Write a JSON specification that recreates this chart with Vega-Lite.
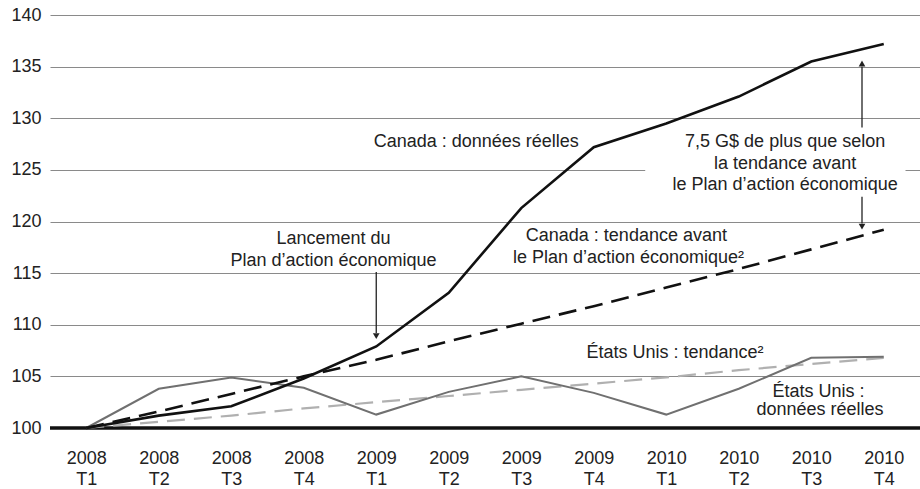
{
  "$schema": "https://vega.github.io/schema/vega-lite/v6.json",
  "width": 870,
  "height": 413,
  "autosize": {"type": "none"},
  "padding": {"left": 50, "top": 15, "right": 0, "bottom": 61},
  "background": "white",
  "config": {
    "view": {"stroke": null},
    "font": "Liberation Sans",
    "text": {"font": "Liberation Sans", "fontSize": 18, "color": "#222"}
  },
  "datasets": {
    "series": [
      {"q": 0, "canada": 100.0, "canada_trend": 100.0, "us": 100.0, "us_trend": 100.0},
      {"q": 1, "canada": 101.2, "canada_trend": 101.6, "us": 103.8, "us_trend": 100.6},
      {"q": 2, "canada": 102.1, "canada_trend": 103.3, "us": 104.9, "us_trend": 101.2},
      {"q": 3, "canada": 104.8, "canada_trend": 105.0, "us": 103.9, "us_trend": 101.9},
      {"q": 4, "canada": 107.9, "canada_trend": 106.6, "us": 101.3, "us_trend": 102.5},
      {"q": 5, "canada": 113.1, "canada_trend": 108.4, "us": 103.5, "us_trend": 103.1},
      {"q": 6, "canada": 121.3, "canada_trend": 110.1, "us": 105.0, "us_trend": 103.7},
      {"q": 7, "canada": 127.2, "canada_trend": 111.8, "us": 103.4, "us_trend": 104.3},
      {"q": 8, "canada": 129.5, "canada_trend": 113.6, "us": 101.3, "us_trend": 104.9},
      {"q": 9, "canada": 132.1, "canada_trend": 115.4, "us": 103.8, "us_trend": 105.6},
      {"q": 10, "canada": 135.5, "canada_trend": 117.3, "us": 106.8, "us_trend": 106.2},
      {"q": 11, "canada": 137.2, "canada_trend": 119.2, "us": 106.9, "us_trend": 106.8}
    ],
    "labels": [
      {"x": 5.38, "y": 127.7, "text": "Canada : données réelles"},
      {"x": 9.64, "y": 127.7, "text": "7,5 G$ de plus que selon"},
      {"x": 9.64, "y": 125.6, "text": "la tendance avant"},
      {"x": 9.64, "y": 123.5, "text": "le Plan d’action économique"},
      {"x": 3.41, "y": 118.3, "text": "Lancement du"},
      {"x": 3.41, "y": 116.2, "text": "Plan d’action économique"},
      {"x": 7.45, "y": 118.6, "text": "Canada : tendance avant"},
      {"x": 7.48, "y": 116.5, "text": "le Plan d’action économique²"},
      {"x": 8.12, "y": 107.3, "text": "États Unis : tendance²"},
      {"x": 10.1, "y": 103.5, "text": "États Unis :"},
      {"x": 10.12, "y": 101.7, "text": "données réelles"}
    ],
    "arrows": [
      {"x": 4, "y": 115.1, "y2": 109.2},
      {"x": 10.7, "y": 129.1, "y2": 135.0},
      {"x": 10.7, "y": 122.4, "y2": 119.8}
    ],
    "heads": [
      {"x": 4, "y": 108.9, "shape": "triangle-down"},
      {"x": 10.7, "y": 135.3, "shape": "triangle-up"},
      {"x": 10.7, "y": 119.5, "shape": "triangle-down"}
    ],
    "mask": [
      {"x": 7.71, "x2": 11.3, "y": 121.2, "y2": 128.8}
    ],
    "base": [{"v": 100}]
  },
  "layer": [
    {
      "data": {"name": "mask"},
      "mark": {"type": "rect", "fill": "white", "stroke": null},
      "encoding": {
        "x": {"field": "x", "type": "quantitative", "scale": {"domain": [-0.5, 11.5], "nice": false, "zero": false},
          "axis": {
            "values": [0, 1, 2, 3, 4, 5, 6, 7, 8, 9, 10, 11],
            "labelExpr": "[['2008','T1'],['2008','T2'],['2008','T3'],['2008','T4'],['2009','T1'],['2009','T2'],['2009','T3'],['2009','T4'],['2010','T1'],['2010','T2'],['2010','T3'],['2010','T4']][datum.value]",
            "title": null, "domain": false, "ticks": false, "grid": false,
            "labelFont": "Liberation Sans", "labelFontSize": 18, "labelColor": "#222",
            "labelPadding": 21, "labelLineHeight": 21, "labelBaseline": "top"
          }},
        "x2": {"field": "x2"},
        "y": {"field": "y", "type": "quantitative", "scale": {"domain": [100, 140], "nice": false, "zero": false},
          "axis": {
            "values": [100, 105, 110, 115, 120, 125, 130, 135, 140],
            "title": null, "domain": false, "ticks": false, "grid": true,
            "gridColor": "#8a8a8a", "gridWidth": 1.2,
            "labelFont": "Liberation Sans", "labelFontSize": 18, "labelColor": "#222",
            "labelPadding": 9
          }},
        "y2": {"field": "y2"}
      }
    },
    {
      "data": {"name": "base"},
      "mark": {"type": "rule", "color": "#111", "strokeWidth": 3.5},
      "encoding": {"y": {"field": "v", "type": "quantitative"}}
    },
    {
      "data": {"name": "series"},
      "mark": {"type": "line", "color": "#b0b0b0", "strokeWidth": 2.2, "strokeDash": [18, 9]},
      "encoding": {"x": {"field": "q", "type": "quantitative"}, "y": {"field": "us_trend", "type": "quantitative"}}
    },
    {
      "data": {"name": "series"},
      "mark": {"type": "line", "color": "#707070", "strokeWidth": 2},
      "encoding": {"x": {"field": "q", "type": "quantitative"}, "y": {"field": "us", "type": "quantitative"}}
    },
    {
      "data": {"name": "series"},
      "mark": {"type": "line", "color": "#111", "strokeWidth": 2.6, "strokeDash": [18, 9]},
      "encoding": {"x": {"field": "q", "type": "quantitative"}, "y": {"field": "canada_trend", "type": "quantitative"}}
    },
    {
      "data": {"name": "series"},
      "mark": {"type": "line", "color": "#111", "strokeWidth": 2.6},
      "encoding": {"x": {"field": "q", "type": "quantitative"}, "y": {"field": "canada", "type": "quantitative"}}
    },
    {
      "data": {"name": "arrows"},
      "mark": {"type": "rule", "color": "#222", "strokeWidth": 1.3},
      "encoding": {
        "x": {"field": "x", "type": "quantitative"},
        "y": {"field": "y", "type": "quantitative"},
        "y2": {"field": "y2"}
      }
    },
    {
      "data": {"name": "heads"},
      "mark": {"type": "point", "filled": true, "color": "#222", "size": 45, "opacity": 1},
      "encoding": {
        "x": {"field": "x", "type": "quantitative"},
        "y": {"field": "y", "type": "quantitative"},
        "shape": {"field": "shape", "type": "nominal", "scale": null}
      }
    },
    {
      "data": {"name": "labels"},
      "mark": {"type": "text", "align": "center", "baseline": "middle"},
      "encoding": {
        "x": {"field": "x", "type": "quantitative"},
        "y": {"field": "y", "type": "quantitative"},
        "text": {"field": "text"}
      }
    }
  ]
}
